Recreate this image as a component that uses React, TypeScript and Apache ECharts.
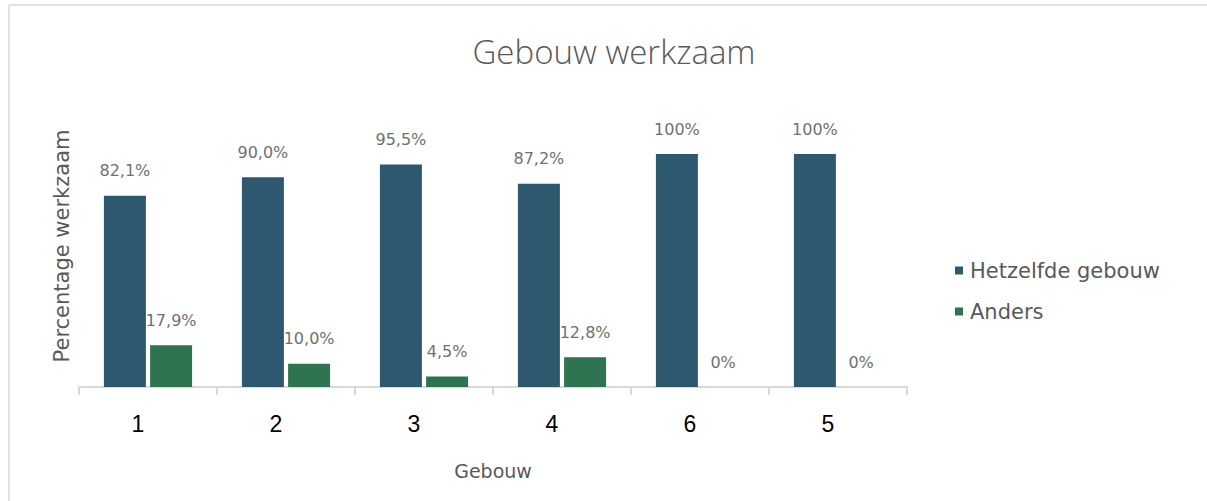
import React, { useEffect, useRef } from "react";
import * as echarts from "echarts";

const categories = ["1", "2", "3", "4", "6", "5"];
const sameBuilding = [82.1, 90.0, 95.5, 87.2, 100, 100];
const other = [17.9, 10.0, 4.5, 12.8, 0, 0];
const seriesNames = ["Hetzelfde gebouw", "Anders"];

const fmt = (v: number) =>
  v === 0 || v === 100 ? `${v}%` : `${v.toFixed(1).replace(".", ",")}%`;

export default function App() {
  const ref = useRef<HTMLDivElement>(null);
  useEffect(() => {
    const chart = echarts.init(ref.current!, null, { renderer: "svg" });
    const labelStyle = {
      show: true,
      position: "top" as const,
      distance: 17,
      color: "#707070",
      fontSize: 16,
      fontFamily: "DejaVu Sans",
      formatter: (p: any) => fmt(p.value),
    };
    chart.setOption({
      animation: false,
      backgroundColor: "#ffffff",
      title: {
        text: "Gebouw werkzaam",
        left: 609,
        top: 30,
        textAlign: "center",
        textStyle: {
          fontFamily: "Open Sans",
          fontWeight: 300,
          fontSize: 33,
          color: "#595959",
        },
      },
      legend: {
        orient: "vertical",
        left: 950,
        top: 255,
        itemWidth: 8,
        itemHeight: 8,
        itemGap: 20,
        icon: "rect",
        textStyle: { fontFamily: "DejaVu Sans", fontSize: 21, color: "#595959", padding: [0, 0, 0, 2] },
        data: seriesNames,
      },
      grid: { left: 79, right: 300, top: 154, bottom: 114 },
      xAxis: {
        type: "category",
        data: categories,
        name: "Gebouw",
        nameLocation: "middle",
        nameGap: 74,
        nameTextStyle: { fontFamily: "DejaVu Sans", fontSize: 19, color: "#595959" },
        axisLine: { lineStyle: { color: "#d9d9d9", width: 2 } },
        axisTick: { show: true, length: 8, lineStyle: { color: "#d9d9d9", width: 2 } },
        axisLabel: {
          margin: 25,
          padding: [0, 20, 0, 0],
          fontFamily: "Liberation Sans",
          fontSize: 23,
          color: "#000000",
        },
      },
      yAxis: {
        type: "value",
        min: 0,
        max: 100,
        show: false,
        splitLine: { show: false },
      },
      graphic: [
        { type: "line", shape: { x1: 9, y1: 5, x2: 1207, y2: 5 }, style: { stroke: "#d9d9d9", lineWidth: 1.5 } },
        { type: "line", shape: { x1: 9, y1: 5, x2: 9, y2: 501 }, style: { stroke: "#d9d9d9", lineWidth: 1.5 } },
        {
          type: "text",
          x: 62,
          y: 246,
          rotation: Math.PI / 2,
          style: {
            text: "Percentage werkzaam",
            fontFamily: "DejaVu Sans",
            fontSize: 21,
            fill: "#595959",
            align: "center",
            verticalAlign: "middle",
          },
        },
      ],
      series: [
        {
          name: seriesNames[0],
          type: "bar",
          data: sameBuilding,
          barWidth: 42,
          barGap: "10%",
          itemStyle: { color: "#2e5870" },
          label: labelStyle,
        },
        {
          name: seriesNames[1],
          type: "bar",
          data: other,
          barWidth: 42,
          itemStyle: { color: "#2f7450" },
          label: labelStyle,
        },
      ],
    });
    return () => chart.dispose();
  }, []);
  return (
    <div
      ref={ref}
      style={{ position: "fixed", left: 0, top: 0, width: 1207, height: 501 }}
    />
  );
}
